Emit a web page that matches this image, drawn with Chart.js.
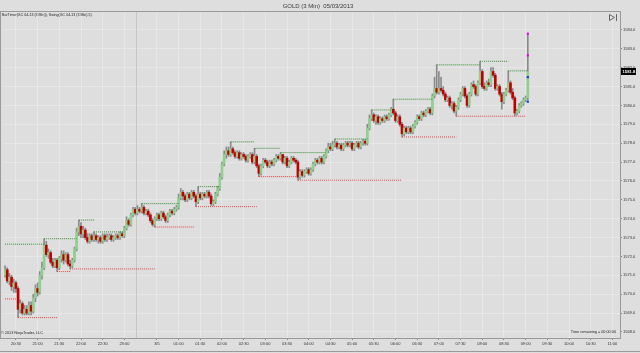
<!DOCTYPE html>
<html>
<head>
<meta charset="utf-8">
<script src="https://cdn.jsdelivr.net/npm/chart.js@4.4.0/dist/chart.umd.min.js"></script>
<style>
html, body { margin: 0; padding: 0; background: #dedede; }
canvas { display: block; }
</style>
</head>
<body>
<canvas id="goldChart" width="640" height="353"></canvas>
<script>
// GC 04-13, 3 min bars, one entry per bar
var opens = [
  1571.0,1571.3,1570.7,1570.9,1570.4,1570.6,1570.3,1569.2,1569.5,1569.0,
  1569.2,1569.0,1569.4,1569.1,1569.8,1570.3,1570.1,1571.0,1571.4,1572.6,
  1572.1,1572.2,1571.7,1571.5,1571.8,1571.4,1571.9,1572.1,1571.8,1572.1,
  1571.6,1571.5,1571.8,1572.4,1573.3,1573.6,1573.2,1573.4,1573.0,1572.8,
  1573.1,1572.9,1573.1,1572.9,1573.0,1572.8,1573.1,1572.9,1573.0,1573.1,
  1572.9,1573.0,1573.1,1573.0,1573.2,1573.1,1573.5,1573.9,1573.7,1574.2,
  1574.5,1574.3,1574.5,1574.4,1574.6,1574.3,1574.4,1574.2,1573.9,1573.7,
  1574.0,1574.2,1574.0,1574.3,1574.1,1573.9,1574.2,1574.4,1574.3,1574.5,
  1574.6,1575.1,1575.4,1575.2,1575.0,1575.3,1575.1,1575.4,1575.2,1574.9,
  1575.3,1575.1,1575.3,1575.2,1575.4,1575.2,1574.8,1574.9,1575.3,1575.6,
  1576.2,1576.9,1577.4,1577.6,1577.4,1577.7,1577.5,1577.3,1577.5,1577.2,
  1577.4,1577.3,1577.1,1577.3,1577.4,1577.0,1577.3,1576.8,1576.4,1576.8,
  1577.1,1577.0,1576.8,1577.0,1576.9,1577.1,1577.3,1577.2,1577.4,1577.0,
  1577.2,1576.8,1577.0,1577.2,1577.1,1577.0,1576.2,1576.5,1576.3,1576.5,
  1576.6,1576.4,1576.6,1576.9,1577.1,1577.0,1577.2,1577.0,1577.3,1577.6,
  1577.8,1577.7,1577.9,1578.0,1577.8,1577.9,1577.7,1577.9,1578.0,1577.9,
  1578.0,1577.7,1577.9,1578.0,1577.8,1578.0,1578.1,1578.0,1578.8,1579.3,
  1579.5,1579.2,1579.4,1579.1,1579.3,1579.2,1579.4,1579.3,1579.5,1579.8,
  1579.6,1579.2,1579.4,1579.0,1578.5,1578.8,1578.6,1578.8,1578.6,1578.9,
  1579.1,1579.4,1579.3,1579.6,1579.5,1579.7,1579.8,1579.6,1580.5,1580.9,
  1580.7,1580.9,1580.8,1580.6,1580.3,1580.4,1580.0,1580.1,1579.7,1579.9,
  1580.3,1580.6,1580.9,1580.5,1580.0,1580.6,1581.1,1581.0,1580.6,1581.2,
  1581.8,1581.0,1580.9,1581.2,1581.1,1581.8,1581.6,1580.9,1581.0,1580.6,
  1580.2,1580.6,1580.8,1581.2,1580.7,1580.4,1579.6,1579.7,1580.0,1580.1,
  1580.3,1580.4
];
var highs = [
  1571.5,1571.4,1571.1,1571.0,1570.8,1570.7,1570.4,1569.7,1569.6,1569.4,
  1569.4,1569.6,1569.6,1570.0,1570.5,1570.6,1571.2,1571.7,1572.94,1572.8,
  1572.4,1572.3,1571.9,1571.9,1571.9,1572.0,1572.3,1572.3,1572.2,1572.2,
  1571.8,1571.9,1572.5,1573.5,1573.93,1573.8,1573.6,1573.5,1573.2,1573.2,
  1573.2,1573.3,1573.2,1573.1,1573.1,1573.2,1573.2,1573.2,1573.2,1573.2,
  1573.1,1573.2,1573.2,1573.3,1573.3,1573.6,1574.1,1574.0,1574.3,1574.6,
  1574.6,1574.7,1574.6,1574.8,1574.7,1574.5,1574.5,1574.3,1574.0,1574.1,
  1574.3,1574.3,1574.4,1574.4,1574.2,1574.3,1574.5,1574.5,1574.6,1574.7,
  1575.3,1575.6,1575.5,1575.3,1575.4,1575.4,1575.5,1575.5,1575.3,1575.7,
  1575.4,1575.4,1575.4,1575.5,1575.5,1575.3,1575.0,1575.4,1575.7,1576.4,
  1577.0,1577.6,1577.8,1577.8,1578.07,1577.8,1577.6,1577.6,1577.6,1577.5,
  1577.5,1577.4,1577.4,1577.5,1577.5,1577.73,1577.4,1576.9,1576.9,1577.2,
  1577.2,1577.1,1577.1,1577.1,1577.2,1577.4,1577.4,1577.5,1577.4,1577.3,
  1577.3,1577.1,1577.3,1577.3,1577.2,1577.1,1576.6,1576.6,1576.6,1576.7,
  1576.7,1576.7,1577.0,1577.2,1577.2,1577.3,1577.3,1577.4,1577.7,1578.0,
  1578.0,1578.1,1578.22,1578.1,1578.0,1578.0,1578.0,1578.1,1578.1,1578.1,
  1578.1,1578.0,1578.1,1578.1,1578.1,1578.2,1578.2,1579.0,1579.5,1579.76,
  1579.6,1579.5,1579.5,1579.4,1579.4,1579.5,1579.5,1579.6,1579.9,1580.33,
  1579.7,1579.5,1579.5,1579.1,1578.9,1578.9,1578.9,1578.9,1579.0,1579.2,
  1579.5,1579.5,1579.7,1579.7,1579.8,1579.9,1579.9,1580.6,1581.5,1582.15,
  1581.8,1581.5,1581.0,1580.7,1580.5,1580.5,1580.2,1580.2,1580.0,1580.4,
  1580.7,1581.0,1581.0,1580.6,1580.7,1581.2,1581.3,1581.1,1581.3,1582.34,
  1581.9,1581.2,1581.3,1581.4,1582.0,1582.0,1581.7,1581.1,1581.1,1580.7,
  1580.7,1580.9,1581.83,1581.3,1580.9,1580.5,1579.8,1580.1,1580.2,1580.4,
  1580.5,1583.8
];
var lows = [
  1570.9,1570.6,1570.5,1570.2,1570.1,1570.1,1568.76,1569.0,1568.9,1568.9,
  1568.9,1568.9,1568.9,1569.0,1569.6,1569.9,1570.0,1570.8,1571.3,1572.0,
  1571.9,1571.6,1571.4,1571.4,1571.2,1571.3,1571.7,1571.6,1571.7,1571.5,
  1571.34,1571.4,1571.7,1572.3,1573.1,1573.0,1573.0,1572.9,1572.7,1572.7,
  1572.8,1572.8,1572.8,1572.7,1572.7,1572.7,1572.8,1572.8,1572.9,1572.8,
  1572.8,1572.9,1572.9,1572.9,1573.0,1573.0,1573.4,1573.6,1573.6,1574.1,
  1574.2,1574.2,1574.3,1574.3,1574.2,1574.2,1574.1,1573.8,1573.6,1573.56,
  1573.9,1573.9,1573.9,1574.0,1573.8,1573.8,1574.1,1574.2,1574.2,1574.4,
  1574.5,1575.0,1575.0,1574.9,1574.9,1575.0,1575.0,1575.1,1574.64,1574.8,
  1575.0,1575.0,1575.1,1575.1,1575.1,1574.7,1574.7,1574.8,1575.2,1575.5,
  1576.1,1576.8,1577.2,1577.3,1577.3,1577.4,1577.2,1577.2,1577.1,1577.1,
  1577.2,1577.0,1577.0,1577.2,1576.9,1576.9,1576.7,1576.23,1576.3,1576.7,
  1576.9,1576.7,1576.7,1576.8,1576.8,1577.0,1577.1,1577.1,1576.9,1576.9,
  1576.7,1576.7,1576.9,1577.0,1576.9,1576.04,1576.1,1576.2,1576.2,1576.4,
  1576.3,1576.3,1576.5,1576.8,1576.9,1576.9,1576.9,1576.9,1577.2,1577.5,
  1577.6,1577.6,1577.8,1577.7,1577.7,1577.6,1577.6,1577.8,1577.8,1577.8,
  1577.6,1577.6,1577.8,1577.7,1577.7,1577.9,1577.9,1577.9,1578.7,1579.2,
  1579.1,1579.0,1579.0,1579.0,1579.1,1579.1,1579.2,1579.2,1579.4,1579.5,
  1579.1,1579.1,1578.9,1578.33,1578.4,1578.5,1578.5,1578.5,1578.5,1578.8,
  1579.0,1579.2,1579.2,1579.4,1579.4,1579.6,1579.5,1579.5,1580.4,1580.6,
  1580.6,1580.7,1580.5,1580.2,1580.2,1579.9,1579.8,1579.6,1579.43,1579.8,
  1580.2,1580.5,1580.4,1579.9,1579.9,1580.5,1580.9,1580.5,1580.5,1581.1,
  1580.9,1580.8,1580.8,1581.0,1581.0,1581.5,1580.8,1580.8,1580.5,1579.8,
  1580.1,1580.5,1580.7,1580.6,1580.3,1579.45,1579.5,1579.6,1579.9,1580.0,
  1580.2,1580.3
];
var closes = [
  1571.3,1570.7,1570.9,1570.4,1570.6,1570.3,1569.2,1569.5,1569.0,1569.2,
  1569.0,1569.4,1569.1,1569.8,1570.3,1570.1,1571.0,1571.4,1572.6,1572.1,
  1572.2,1571.7,1571.5,1571.8,1571.4,1571.9,1572.1,1571.8,1572.1,1571.6,
  1571.5,1571.8,1572.4,1573.3,1573.6,1573.2,1573.4,1573.0,1572.8,1573.1,
  1572.9,1573.1,1572.9,1573.0,1572.8,1573.1,1572.9,1573.0,1573.1,1572.9,
  1573.0,1573.1,1573.0,1573.2,1573.1,1573.5,1573.9,1573.7,1574.2,1574.5,
  1574.3,1574.5,1574.4,1574.6,1574.3,1574.4,1574.2,1573.9,1573.7,1574.0,
  1574.2,1574.0,1574.3,1574.1,1573.9,1574.2,1574.4,1574.3,1574.5,1574.6,
  1575.1,1575.4,1575.2,1575.0,1575.3,1575.1,1575.4,1575.2,1574.9,1575.3,
  1575.1,1575.3,1575.2,1575.4,1575.2,1574.8,1574.9,1575.3,1575.6,1576.2,
  1576.9,1577.4,1577.6,1577.4,1577.7,1577.5,1577.3,1577.5,1577.2,1577.4,
  1577.3,1577.1,1577.3,1577.4,1577.0,1577.3,1576.8,1576.4,1576.8,1577.1,
  1577.0,1576.8,1577.0,1576.9,1577.1,1577.3,1577.2,1577.4,1577.0,1577.2,
  1576.8,1577.0,1577.2,1577.1,1577.0,1576.2,1576.5,1576.3,1576.5,1576.6,
  1576.4,1576.6,1576.9,1577.1,1577.0,1577.2,1577.0,1577.3,1577.6,1577.8,
  1577.7,1577.9,1578.0,1577.8,1577.9,1577.7,1577.9,1578.0,1577.9,1578.0,
  1577.7,1577.9,1578.0,1577.8,1578.0,1578.1,1578.0,1578.8,1579.3,1579.5,
  1579.2,1579.4,1579.1,1579.3,1579.2,1579.4,1579.3,1579.5,1579.8,1579.6,
  1579.2,1579.4,1579.0,1578.5,1578.8,1578.6,1578.8,1578.6,1578.9,1579.1,
  1579.4,1579.3,1579.6,1579.5,1579.7,1579.8,1579.6,1580.5,1580.9,1580.7,
  1580.9,1580.8,1580.6,1580.3,1580.4,1580.0,1580.1,1579.7,1579.9,1580.3,
  1580.6,1580.9,1580.5,1580.0,1580.6,1581.1,1581.0,1580.6,1581.2,1581.8,
  1581.0,1580.9,1581.2,1581.1,1581.8,1581.6,1580.9,1581.0,1580.6,1580.2,
  1580.6,1580.8,1581.2,1580.7,1580.4,1579.6,1579.7,1580.0,1580.1,1580.3,
  1580.4,1581.8
];

// slots on the time axis (bars + empty space to the right)
var barCount = 284;
var sessionBreak = 60;

var xTickIndex = [5, 15, 25, 35, 45, 55, 70, 80, 90, 100, 110, 120, 130, 140,
  150, 160, 170, 180, 190, 200, 210, 220, 230, 240, 250, 260, 270, 280];
var xTickLabels = ["20:30", "21:00", "21:30", "22:00", "22:30", "23:00", "3/5",
  "01:00", "01:30", "02:00", "02:30", "03:00", "03:30", "04:00", "04:30",
  "05:00", "05:30", "06:00", "06:30", "07:00", "07:30", "08:00", "08:30",
  "09:00", "09:30", "10:00", "10:30", "11:00"];

// Swing(5) levels
var swingHighLevels = [1572.65, 1572.94, 1573.93, 1573.3, 1574.8, 1575.7, 1578.07,
  1577.73, 1577.5, 1578.22, 1579.76, 1580.33, 1582.15, 1582.34, 1581.83];
var swingHighFrom = [0, 18, 34, 41, 63, 89, 104, 115, 127, 152, 169, 179, 199, 219, 232];
var swingHighTo = [18, 33, 41, 55, 80, 99, 115, 127, 148, 167, 178, 197, 219, 232, 241];

var swingLowLevels = [1569.75, 1568.76, 1571.2, 1571.34, 1573.56, 1574.64, 1576.23,
  1576.04, 1578.33, 1579.43];
var swingLowFrom = [0, 6, 24, 30, 69, 88, 117, 135, 183, 208];
var swingLowTo = [5, 24, 30, 69, 87, 116, 134, 183, 208, 240];

var markerIndex = 241;
var magentaMarks = [1583.8, 1582.65];
var blueMarks = [1581.5, 1580.2];

var yMin = 1567.68;
var yMax = 1584.95;

var FONT = "'Liberation Sans', Arial, sans-serif";

var labels = [];
for (var i = 0; i < barCount; i++) {
    labels.push(i);
}

var wickData = lows.map(function (l, i) { return [l, highs[i]]; });
var bodyData = opens.map(function (o, i) { return [o, closes[i]]; });
var bodyColors = opens.map(function (o, i) {
    return closes[i] >= o ? "#8fcf8f" : "#c00000";
});

function segment(level, from, to) {
    var arr = [];
    for (var k = 0; k < barCount; k++) {
        arr.push(k >= from && k <= to ? level : null);
    }
    return arr;
}

var datasets = [];

swingHighLevels.forEach(function (lv, n) {
    datasets.push({
        type: "line",
        data: segment(lv, swingHighFrom[n], swingHighTo[n]),
        borderColor: "#2f8a2f",
        borderWidth: 1,
        borderDash: [1, 1],
        pointRadius: 0,
        spanGaps: false,
        order: 0
    });
});

swingLowLevels.forEach(function (lv, n) {
    datasets.push({
        type: "line",
        data: segment(lv, swingLowFrom[n], swingLowTo[n]),
        borderColor: "#e53b3b",
        borderWidth: 1,
        borderDash: [1, 1],
        pointRadius: 0,
        spanGaps: false,
        order: 0
    });
});

datasets.push({
    type: "line",
    data: magentaMarks.map(function (v) { return { x: markerIndex, y: v }; }),
    showLine: false,
    pointStyle: "rect",
    pointRadius: 1.5,
    pointBackgroundColor: "#e000e0",
    pointBorderWidth: 0,
    order: 0
});

datasets.push({
    type: "line",
    data: blueMarks.map(function (v) { return { x: markerIndex, y: v }; }),
    showLine: false,
    pointStyle: "rect",
    pointRadius: 1.5,
    pointBackgroundColor: "#1030e0",
    pointBorderWidth: 0,
    order: 0
});

datasets.push({
    type: "bar",
    data: bodyData,
    backgroundColor: bodyColors,
    barThickness: 2,
    minBarLength: 1,
    grouped: false,
    order: 1
});

datasets.push({
    type: "bar",
    data: wickData,
    backgroundColor: "#8a8a8a",
    barThickness: 1,
    grouped: false,
    order: 2
});

var chromePlugin = {
    id: "chrome",
    beforeDraw: function (c) {
        var ctx = c.ctx;
        ctx.save();
        ctx.fillStyle = "#dedede";
        ctx.fillRect(0, 0, c.width, c.height);
        ctx.restore();
    },
    beforeDatasetsDraw: function (c) {
        var ctx = c.ctx;
        var a = c.chartArea;
        var xs = c.scales.x;
        var px = Math.round((xs.getPixelForValue(sessionBreak) + xs.getPixelForValue(sessionBreak + 1)) / 2) + 0.5;
        ctx.save();
        ctx.strokeStyle = "#c6c6c6";
        ctx.lineWidth = 1;
        ctx.beginPath();
        ctx.moveTo(px, a.top);
        ctx.lineTo(px, a.bottom);
        ctx.stroke();
        ctx.restore();
    },
    afterDraw: function (c) {
        var ctx = c.ctx;
        var a = c.chartArea;
        var ys = c.scales.y;
        ctx.save();

        // frame
        ctx.strokeStyle = "#9a9a9a";
        ctx.lineWidth = 1;
        ctx.strokeRect(0.5, a.top - 0.5, a.right, a.bottom - a.top + 1);
        ctx.beginPath();
        ctx.moveTo(0, 351.5);
        ctx.lineTo(640, 351.5);
        ctx.stroke();

        // title
        ctx.fillStyle = "#3a3a3a";
        ctx.font = "6px " + FONT;
        ctx.textAlign = "center";
        ctx.textBaseline = "middle";
        ctx.fillText("GOLD (3 Min)  05/03/2013", 318, 6);

        ctx.textAlign = "left";
        ctx.font = "3.6px " + FONT;
        ctx.fillStyle = "#222";
        ctx.fillText("BarTimer(GC 04-13 (3 Min)), Swing(GC 04-13 (3 Min),5)", 2, 15);

        ctx.font = "3.8px " + FONT;
        ctx.fillText("\u00a9 2013 NinjaTrader, LLC", 1, 333);
        ctx.textAlign = "right";
        ctx.fillText("Time remaining = 00:00:00", 616, 332);

        // scroll icon
        ctx.strokeStyle = "#666";
        ctx.beginPath();
        ctx.moveTo(609.5, 14.5);
        ctx.lineTo(614.5, 17.5);
        ctx.lineTo(609.5, 20.5);
        ctx.closePath();
        ctx.moveTo(616.5, 14);
        ctx.lineTo(616.5, 21);
        ctx.stroke();

        // last price tag
        var py = ys.getPixelForValue(closes[closes.length - 1]);
        ctx.fillStyle = "#000";
        ctx.fillRect(a.right + 1, py - 3.5, 15, 7);
        ctx.fillStyle = "#fff";
        ctx.font = "bold 4.2px " + FONT;
        ctx.textAlign = "left";
        ctx.textBaseline = "middle";
        ctx.fillText(closes[closes.length - 1].toFixed(1), a.right + 2.5, py);

        ctx.restore();
    }
};

var chart = document.getElementById("goldChart");

if (chart) {

    new Chart(chart, {

        data: {
            labels: labels,
            datasets: datasets
        },

        options: {
            responsive: false,
            animation: false,
            events: [],
            layout: {
                padding: { left: 1, top: 12, right: 0, bottom: 0 }
            },
            plugins: {
                legend: { display: false },
                tooltip: { enabled: false }
            },
            scales: {
                x: {
                    type: "category",
                    offset: true,
                    afterBuildTicks: function (axis) {
                        axis.ticks = axis.ticks.filter(function (t) {
                            return xTickIndex.indexOf(t.value) !== -1;
                        });
                    },
                    afterFit: function (axis) {
                        axis.height = 15;
                        axis.paddingLeft = 0;
                        axis.paddingRight = 0;
                    },
                    grid: {
                        offset: false,
                        color: "rgba(255,255,255,0.25)",
                        tickColor: "#8a8a8a",
                        tickLength: 2
                    },
                    border: { display: false },
                    ticks: {
                        autoSkip: false,
                        maxRotation: 0,
                        padding: 1,
                        color: "#333",
                        font: { family: FONT, size: 4 },
                        callback: function (value) {
                            var k = xTickIndex.indexOf(value);
                            return k === -1 ? "" : xTickLabels[k];
                        }
                    }
                },
                y: {
                    position: "right",
                    min: yMin,
                    max: yMax,
                    afterFit: function (axis) {
                        axis.width = 20;
                        axis.paddingTop = 0;
                        axis.paddingBottom = 0;
                    },
                    grid: {
                        color: "rgba(255,255,255,0.25)",
                        tickColor: "#8a8a8a",
                        tickLength: 2
                    },
                    border: { display: false },
                    ticks: {
                        stepSize: 1,
                        includeBounds: false,
                        padding: 1,
                        color: "#333",
                        font: { family: FONT, size: 4 },
                        callback: function (value) {
                            return value.toFixed(1);
                        }
                    }
                }
            }
        },

        plugins: [chromePlugin]

    });

}
</script>
</body>
</html>
